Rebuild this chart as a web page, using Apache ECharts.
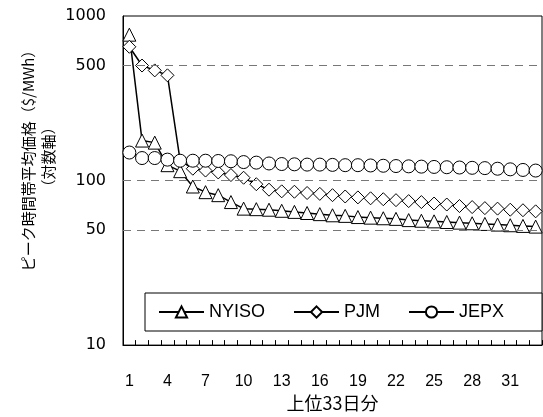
<!DOCTYPE html>
<html><head><meta charset="utf-8">
<script src="https://cdn.jsdelivr.net/npm/echarts@6/dist/echarts.min.js"></script>
<style>html,body{margin:0;padding:0;background:#fff}#c{width:543px;height:417px}</style>
</head><body><div id="c"></div>
<script>
const days = Array.from({length:33},(_,i)=>String(i+1));
const nyiso = [770,175,170,124,114,92,85,81.5,74,67.5,67,66.5,65.5,64.5,63.5,62.5,61.5,61,60,59.5,59,58.5,57.5,57,56.5,56,55.5,55,54.5,54,53.5,53,52.5];
const pjm = [650,500,467,436,132,118,115,112,108,104,95,88,86,85.5,84,83,81.5,80,79,78,77,76,75,74,72.5,71.5,70,69,68,67.5,66.5,66,65];
const jepx = [148,137,137,134,132,132,132,131.5,131,129.5,128.5,127,126,125.5,125,125,124.5,124,124,123.5,123,122.5,122,121.5,121,120.5,120,119.5,119,118,117,116,115];
const yTicks = [10,50,100,500,1000];
const gridValues = [50,100,500];
const seriesNames = ['NYISO','PJM','JEPX'];
const xName = '上位33日分';
const yName1 = 'ピーク時間帯平均価格（$/MWh）';
const yName2 = '（対数軸）';

const chart = echarts.init(document.getElementById('c'), null, {renderer:'canvas'});
function mk(name, data, symbol, extra){
  return Object.assign({
    name, type:'line', data, symbol, symbolSize:13, showSymbol:true, showAllSymbol:true,
    lineStyle:{color:'#000', width:1.5},
    itemStyle:{color:'#fff', borderColor:'#000', borderWidth:1},
    emphasis:{disabled:true}
  }, extra||{});
}
chart.setOption({
  animation:false,
  grid:{left:123, right:1, top:16, bottom:69, show:true, borderColor:'#000', borderWidth:1, backgroundColor:'transparent'},
  legend:{
    left:145, top:293, orient:'horizontal',
    data:seriesNames,
    itemWidth:45, itemHeight:14, itemGap:28,
    borderColor:'#000', borderWidth:1, backgroundColor:'#fff',
    padding:[10,38,10,13],
    textStyle:{fontFamily:'Liberation Sans', fontSize:18, color:'#000'}
  },
  xAxis:{
    type:'category', data:days, boundaryGap:true,
    axisLine:{lineStyle:{color:'#000', width:1}},
    axisTick:{show:true, inside:true, length:5, interval:0, lineStyle:{color:'#000'}},
    axisLabel:{interval:2, margin:28, fontFamily:'Liberation Sans', fontSize:16, color:'#000'},
    name:xName, nameLocation:'middle', nameGap:45,
    nameTextStyle:{fontFamily:'Noto Sans CJK JP', fontSize:18, color:'#000'}
  },
  yAxis:{
    type:'log', logBase:10, min:10, max:1000,
    axisLine:{show:true, lineStyle:{color:'#000', width:1}},
    axisTick:{show:false},
    splitLine:{show:false},
    axisLabel:{customValues:yTicks, margin:17, fontFamily:'DejaVu Sans', fontSize:16, color:'#000', formatter:v=>String(Math.round(v))}
  },
  graphic:[
    {type:'text', x:28, y:157, rotation:Math.PI/2, style:{text:yName1, align:'center', verticalAlign:'middle', font:'15px "Noto Sans CJK JP"', fill:'#000'}},
    {type:'text', x:48, y:157, rotation:Math.PI/2, style:{text:yName2, align:'center', verticalAlign:'middle', font:'15px "Noto Sans CJK JP"', fill:'#000'}}
  ],
  series:[
    mk('NYISO', nyiso, 'triangle', {markLine:{silent:true, symbol:'none', label:{show:false}, lineStyle:{color:'#777', type:[8,6], width:1}, data:gridValues.map(v=>({yAxis:v}))}, z:2}),
    mk('PJM', pjm, 'diamond', {z:3}),
    mk('JEPX', jepx, 'circle', {z:4})
  ]
});
</script></body></html>
